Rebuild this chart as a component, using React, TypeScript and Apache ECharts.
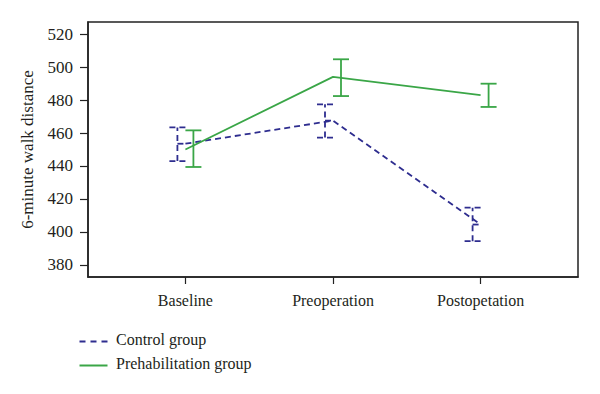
import React, { useEffect, useRef } from "react";
import * as echarts from "echarts";

const categories = ["Baseline", "Preoperation", "Postopetation"];
const yTicks = [380, 400, 420, 440, 460, 480, 500, 520];
const controlMean = [453.5, 467.5, 404.5];
const controlLow = [443, 457.2, 394.4];
const controlHigh = [463.4, 477.4, 414.7];
const prehabMean = [450, 494, 483];
const prehabLow = [439.4, 482.4, 475.8];
const prehabHigh = [461.6, 504.7, 489.9];
const legendNames = ["Control group", "Prehabilitation group"];

const BLUE = "#2e2d8f";
const GREEN = "#3aa647";
const TEXT = "#231f20";
const FONT = "Liberation Serif";

function errSeries(name: string, mean: number[], low: number[], high: number[], color: string, offset: number, dashed: boolean) {
  const data = categories.map((_, i) => [i, low[i], high[i], mean[i]]);
  return {
    type: "custom",
    name: name + " error",
    data,
    silent: true,
    renderItem: (params: any, api: any) => {
      const x = api.value(0);
      const lo = api.coord([x, api.value(1)]);
      const hi = api.coord([x, api.value(2)]);
      const mid = api.coord([x, api.value(3)]);
      const bx = lo[0] + offset;
      const style = { stroke: color, lineWidth: 1.8, lineDash: dashed ? [6, 4] : null, fill: null };
      const children: any[] = [
        { type: "line", shape: { x1: bx, y1: lo[1], x2: bx, y2: hi[1] }, style },
        { type: "line", shape: { x1: bx - 8, y1: lo[1], x2: bx + 8, y2: lo[1] }, style },
        { type: "line", shape: { x1: bx - 8, y1: hi[1], x2: bx + 8, y2: hi[1] }, style },
      ];
      if (dashed) {
        children.push({ type: "line", shape: { x1: bx, y1: mid[1], x2: mid[0], y2: mid[1] }, style });
      }
      return { type: "group", children };
    },
    z: 3,
  };
}

export default function App() {
  const ref = useRef<HTMLDivElement>(null);
  useEffect(() => {
    const chart = echarts.init(ref.current!, null, { renderer: "svg" });
    chart.setOption({
      animation: false,
      backgroundColor: "#ffffff",
      textStyle: { fontFamily: FONT },
      grid: { left: 88, top: 22, width: 490, height: 255, show: true, borderColor: "#222", borderWidth: 1.5, backgroundColor: "transparent" },
      graphic: [
        { type: "line", left: 77, top: 339, shape: { x1: 0, y1: 0, x2: 28, y2: 0 }, style: { stroke: BLUE, lineWidth: 2, lineDash: [6, 5] } },
        { type: "text", left: 116, top: 331, style: { text: legendNames[0], fontFamily: FONT, fontSize: 16, fill: TEXT } },
        { type: "line", left: 77, top: 363, shape: { x1: 0, y1: 0, x2: 28, y2: 0 }, style: { stroke: GREEN, lineWidth: 2 } },
        { type: "text", left: 116, top: 355, style: { text: legendNames[1], fontFamily: FONT, fontSize: 16, fill: TEXT } },
      ],
      xAxis: {
        type: "value",
        min: -0.66,
        max: 2.66,
        splitLine: { show: false },
        axisLine: { show: true, onZero: false, lineStyle: { color: "#222", width: 1.5 } },
        axisTick: { show: true, customValues: [0, 1, 2], length: 7, lineStyle: { color: "#222", width: 1.2 } },
        axisLabel: {
          customValues: [0, 1, 2],
          formatter: (v: number) => categories[Math.round(v)] ?? "",
          fontFamily: FONT,
          fontSize: 16,
          color: TEXT,
          margin: 15,
        },
      },
      yAxis: {
        type: "value",
        min: 372.7,
        max: 527.3,
        name: "6-minute walk distance",
        nameLocation: "middle",
        nameGap: 52,
        nameTextStyle: { fontFamily: FONT, fontSize: 17, color: TEXT },
        splitLine: { show: false },
        axisLine: { show: true, onZero: false, lineStyle: { color: "#222", width: 1.5 } },
        axisTick: { show: true, customValues: yTicks, length: 8, lineStyle: { color: "#222", width: 1.2 } },
        axisLabel: { customValues: yTicks, fontFamily: FONT, fontSize: 17, color: TEXT, margin: 15 },
      },
      series: [
        {
          type: "line",
          name: "Control group",
          data: categories.map((_, i) => [i, controlMean[i]]),
          symbol: "none",
          color: BLUE,
          lineStyle: { color: BLUE, width: 1.8, type: [6, 4] },
          z: 4,
        },
        {
          type: "line",
          name: "Prehabilitation group",
          data: categories.map((_, i) => [i, prehabMean[i]]),
          symbol: "none",
          color: GREEN,
          lineStyle: { color: GREEN, width: 1.8 },
          z: 4,
        },
        errSeries("Control group", controlMean, controlLow, controlHigh, BLUE, -8, true),
        errSeries("Prehabilitation group", prehabMean, prehabLow, prehabHigh, GREEN, 8, false),
      ],
    });
    return () => chart.dispose();
  }, []);
  return <div ref={ref} style={{ width: 600, height: 394, position: "absolute", left: 0, top: 0 }} />;
}
